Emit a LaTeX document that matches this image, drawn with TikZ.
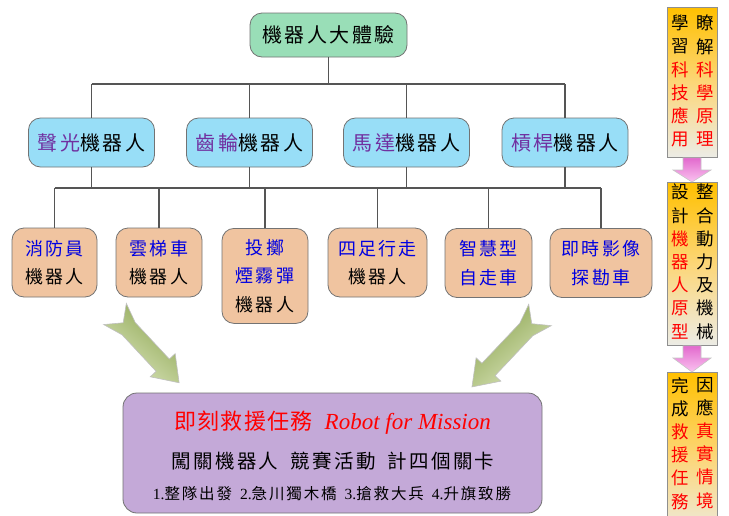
\documentclass[tikz,border=0pt]{standalone}
\usepackage{fontspec}
\setmainfont{Liberation Serif}
\newfontfamily\cjk{Noto Sans CJK TC}
\newfontfamily\cjksp[LetterSpace=12]{Noto Sans CJK TC}
\newfontfamily\cjkss[LetterSpace=6]{Noto Sans CJK TC}
\usetikzlibrary{calc}
\definecolor{linegray}{RGB}{85,85,85}
\definecolor{bordergray}{RGB}{115,115,115}
\definecolor{topgreen}{RGB}{153,222,183}
\definecolor{lvlblue}{RGB}{152,222,247}
\definecolor{peach}{RGB}{240,196,160}
\definecolor{lilac}{RGB}{196,169,216}
\definecolor{purptext}{RGB}{112,48,160}
\definecolor{bluetext}{RGB}{0,0,225}
\definecolor{orangeY}{RGB}{255,192,0}
\definecolor{midY}{RGB}{252,214,120}
\definecolor{grayW}{RGB}{236,236,230}
\definecolor{olive}{RGB}{140,165,80}
\definecolor{olivelight}{RGB}{220,230,190}
\definecolor{pinkA}{RGB}{226,105,205}
\definecolor{pinkB}{RGB}{250,195,240}
\begin{document}
\begin{tikzpicture}[x=1pt,y=-1pt,
  rbox/.style={draw=bordergray, line width=0.8pt, rounded corners=12pt, align=center, inner sep=0pt},
  topbox/.style={rbox, fill=topgreen, minimum width=157pt, minimum height=44pt, font=\cjksp\fontsize{20}{24}\selectfont},
  lonebox/.style={rbox, fill=lvlblue, minimum width=126pt, minimum height=49pt, font=\cjksp\fontsize{20}{24}\selectfont},
  ltwobox/.style={rbox, fill=peach, minimum height=69pt, font=\cjksp\fontsize{18}{28.5}\selectfont},
  conn/.style={draw=linegray, line width=1.1pt},
  sidebox/.style={draw=bordergray!80, line width=0.8pt, top color=orangeY, bottom color=grayW, middle color=midY, minimum width=50pt, inner sep=0pt},
  sidetext/.style={align=center, inner sep=0pt, font=\cjk\fontsize{17.5}{23.2}\selectfont},
  greenarrow/.style={draw=gray!50, line width=0.6pt, top color=olive, bottom color=olivelight},
  pinkarrow/.style={draw=gray!45, line width=0.6pt, top color=pinkA, bottom color=pinkB}
]
\clip (0,0) rectangle (729,515);
\fill[white] (0,0) rectangle (729,515);

% top
\node[topbox] (top) at (328.5,35) {機器人大體驗};

% level 1
\node[lonebox] (la) at (91.5,142.5) {\textcolor{purptext}{聲光}機器人};
\node[lonebox] (lb) at (249.5,142.5) {\textcolor{purptext}{齒輪}機器人};
\node[lonebox] (lc) at (406.5,142.5) {\textcolor{purptext}{馬達}機器人};
\node[lonebox] (ld) at (565,142.5) {\textcolor{purptext}{槓桿}機器人};

% level 2
\node[ltwobox, minimum width=85pt] (ma) at (54.5,262.5) {\textcolor{bluetext}{消防員}\\機器人};
\node[ltwobox, minimum width=86pt] (mb) at (159,262.5) {\textcolor{bluetext}{雲梯車}\\機器人};
\node[ltwobox, minimum width=86pt, minimum height=95pt, anchor=north] (mc) at (265,228) {\textcolor{bluetext}{投擲}\\\textcolor{bluetext}{煙霧彈}\\機器人};
\node[ltwobox, minimum width=99pt] (md) at (377.5,262.5) {\textcolor{bluetext}{四足行走}\\機器人};
\node[ltwobox, minimum width=87pt] (me) at (488.5,263) {\textcolor{bluetext}{智慧型}\\\textcolor{bluetext}{自走車}};
\node[ltwobox, minimum width=102pt] (mf) at (601,263) {\textcolor{bluetext}{即時影像}\\\textcolor{bluetext}{探勘車}};

% connectors top -> level 1
\coordinate (busA) at (0,84);
\draw[conn] (top.south) -- (top.south |- busA);
\draw[conn] (la.north |- busA) -- (ld.north |- busA);
\foreach \n in {la,lb,lc,ld}{\draw[conn] (\n.north) -- (\n.north |- busA);}

% connectors level 1 -> level 2
\coordinate (busB) at (0,188);
\draw[conn] (ma.north |- busB) -- (mf.north |- busB);
\foreach \n in {la,lb,lc,ld}{\draw[conn] (\n.south) -- (\n.south |- busB);}
\foreach \n in {ma,mb,mc,md,me,mf}{\draw[conn] (\n.north) -- (\n.north |- busB);}

% green arrows
\begin{scope}[shift={(115,314)}, rotate=-47]
\path[greenarrow, shading angle=-40] (0,15.5) -- (20,9) -- (70,9) -- (70,17) -- (94,0) -- (70,-17) -- (70,-9) -- (20,-9) -- (0,-15.5) -- (12,0) -- cycle;
\end{scope}
\begin{scope}[shift={(540,315)}, rotate=-133.4]
\path[greenarrow, shading angle=40] (0,15.5) -- (20,9) -- (75,9) -- (75,17) -- (99,0) -- (75,-17) -- (75,-9) -- (20,-9) -- (0,-15.5) -- (12,0) -- cycle;
\end{scope}

% mission box
\node[rbox, fill=lilac, minimum width=419pt, minimum height=120pt, rounded corners=14pt] (mission) at (332.5,453) {};
\node[inner sep=0pt, text=red] (mt1) at (332.5,423) {\cjkss\fontsize{22}{26}\selectfont 即刻救援任務\hspace{12pt}{\rmfamily\itshape\fontsize{23}{26}\selectfont Robot for Mission}};
\node[inner sep=0pt] (mt2) at (333,461) {\cjksp\fontsize{19.5}{23}\selectfont 闖關機器人\hspace{12pt}競賽活動\hspace{12pt}計四個關卡};
\node[inner sep=0pt] (mt3) at (332,494) {\cjksp\fontsize{15.5}{18}\selectfont {\rmfamily 1.}整隊出發\hspace{8pt}{\rmfamily 2.}急川獨木橋\hspace{8pt}{\rmfamily 3.}搶救大兵\hspace{8pt}{\rmfamily 4.}升旗致勝};

% side column
\node[sidebox, minimum height=150pt, anchor=north] (sa) at (692,7) {};
\node[sidetext, anchor=north] (sar) at (705,15) {瞭\\解\\\textcolor{red}{科}\\\textcolor{red}{學}\\\textcolor{red}{原}\\\textcolor{red}{理}};
\node[sidetext, anchor=north] (sal) at (680,15) {學\\習\\\textcolor{red}{科}\\\textcolor{red}{技}\\\textcolor{red}{應}\\\textcolor{red}{用}};

\node[sidebox, minimum height=163pt, anchor=north] (sb) at (692,182) {};
\node[sidetext, anchor=north] (sbr) at (705,184) {整\\合\\動\\力\\及\\機\\械};
\node[sidetext, anchor=north] (sbl) at (680,184) {設\\計\\\textcolor{red}{機}\\\textcolor{red}{器}\\\textcolor{red}{人}\\\textcolor{red}{原}\\\textcolor{red}{型}};

\node[sidebox, minimum height=168pt, anchor=north] (sc) at (692,372) {};
\node[sidetext, anchor=north] (scr) at (705,377) {因\\應\\\textcolor{red}{真}\\\textcolor{red}{實}\\\textcolor{red}{情}\\\textcolor{red}{境}};
\node[sidetext, anchor=north] (scl) at (680,377) {完\\成\\\textcolor{red}{救}\\\textcolor{red}{援}\\\textcolor{red}{任}\\\textcolor{red}{務}};

% pink arrows
\path[pinkarrow] ($(sa.south)+(-9,0)$) -- ($(sb.north)+(-9,-12)$) -- ($(sb.north)+(-19,-12)$) -- (sb.north) -- ($(sb.north)+(19,-12)$) -- ($(sb.north)+(9,-12)$) -- ($(sa.south)+(9,0)$) -- cycle;
\path[pinkarrow] ($(sb.south)+(-9,0)$) -- ($(sc.north)+(-9,-14)$) -- ($(sc.north)+(-19,-14)$) -- (sc.north) -- ($(sc.north)+(19,-14)$) -- ($(sc.north)+(9,-14)$) -- ($(sb.south)+(9,0)$) -- cycle;
\end{tikzpicture}
\end{document}
